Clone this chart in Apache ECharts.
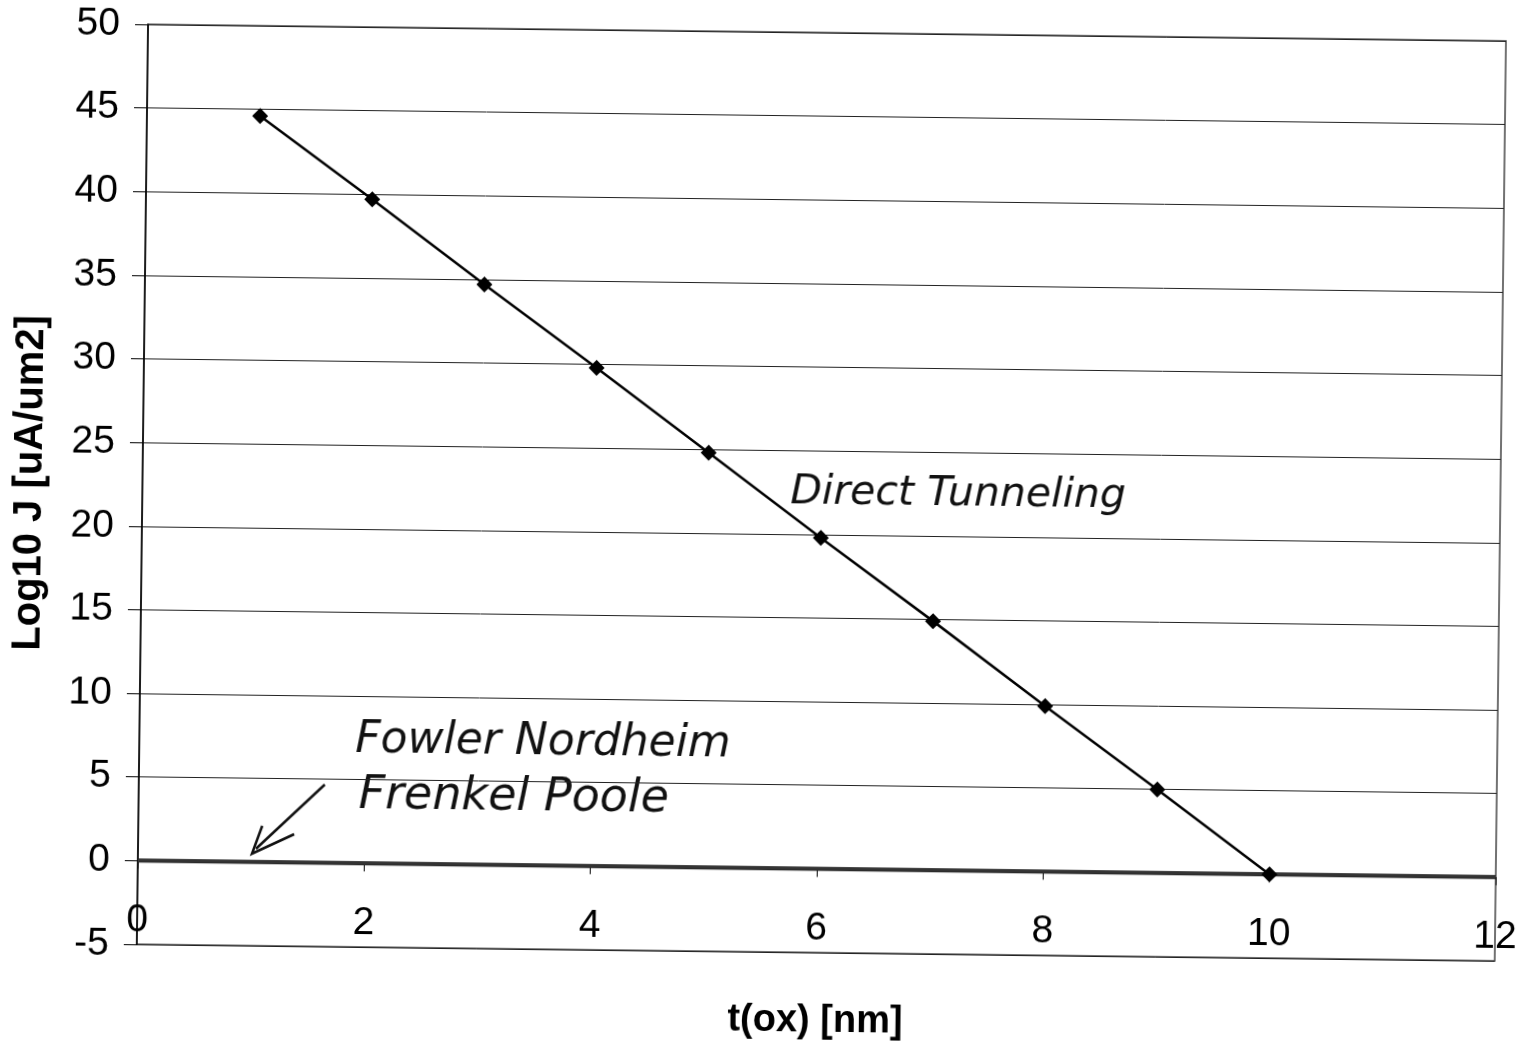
<!DOCTYPE html>
<html>
<head>
<meta charset="utf-8">
<script src="https://cdn.jsdelivr.net/npm/echarts@6/dist/echarts.min.js"></script>
<style>
html,body{margin:0;padding:0;background:#fff;overflow:hidden;}
#chart{width:1540px;height:1049px;transform:rotate(0.7deg);transform-origin:770px 524px;}
</style>
</head>
<body>
<div id="chart"></div>
<script>
// ---- data ----
const tox = [1, 2, 3, 4, 5, 6, 7, 8, 9, 10];
const directTunneling = [44.6, 39.7, 34.7, 29.8, 24.8, 19.8, 14.9, 9.9, 5.0, 0.0];
const toxWide = [0, 1, 2, 3, 4, 5, 6, 7, 8, 9, 10, 11, 12];
const fowlerNordheim = [0, 0, 0, 0, 0, 0, 0, 0, 0, 0, 0, 0, 0];
const frenkelPoole = [0, 0, 0, 0, 0, 0, 0, 0, 0, 0, 0, 0, 0];
const yTicks = { min: -5, max: 50, interval: 5 };
const xTicks = { min: 0, max: 12, interval: 2 };
const yTitle = 'Log10 J [uA/um2]';
const xTitle = 't(ox) [nm]';
const notes = ['Direct Tunneling', 'Fowler Nordheim', 'Frenkel Poole'];

const zip = (xs, ys) => xs.map((x, i) => [x, ys[i]]);
const axisFont = { fontFamily: 'Liberation Sans, Arial, sans-serif', color: '#000' };
const handFont = { fontFamily: 'DejaVu Sans, sans-serif', fontStyle: 'oblique', fontWeight: 200, fill: '#111' };

const chart = echarts.init(document.getElementById('chart'), null, { renderer: 'canvas' });
chart.setOption({
  backgroundColor: '#fff',
  animation: false,
  grid: { left: 142, top: 32, right: 40, bottom: 97, show: true, borderColor: '#444', borderWidth: 1.5, backgroundColor: 'transparent', containLabel: false, outerBoundsMode: 'none' },
  xAxis: {
    type: 'value', min: xTicks.min, max: xTicks.max, interval: xTicks.interval,
    axisLine: { onZero: true, lineStyle: { color: '#000', width: 1 } },
    axisTick: { show: true, inside: false, length: 8, lineStyle: { color: '#000' } },
    axisLabel: Object.assign({ fontSize: 39, margin: -43 }, axisFont),
    splitLine: { show: false },
    name: xTitle, nameLocation: 'middle', nameGap: 50,
    nameTextStyle: Object.assign({ fontSize: 38, fontWeight: 'bold' }, axisFont)
  },
  yAxis: {
    type: 'value', min: yTicks.min, max: yTicks.max, interval: yTicks.interval,
    axisLine: { show: true, onZero: false, lineStyle: { color: '#000', width: 1.5 } },
    axisTick: { show: true, inside: false, length: 13, lineStyle: { color: '#000' } },
    axisLabel: Object.assign({ fontSize: 39, margin: 28 }, axisFont),
    splitLine: { show: true, lineStyle: { color: '#222', width: 1 } },
    name: yTitle, nameLocation: 'middle', nameGap: 92,
    nameTextStyle: Object.assign({ fontSize: 40, fontWeight: 'bold' }, axisFont)
  },
  series: [
    {
      name: 'Fowler Nordheim', type: 'line', data: zip(toxWide, fowlerNordheim),
      symbol: 'none', lineStyle: { color: '#1a1a1a', width: 4 }, z: 3
    },
    {
      name: 'Frenkel Poole', type: 'line', data: zip(toxWide, frenkelPoole),
      symbol: 'none', lineStyle: { color: '#333', width: 3 }, z: 3
    },
    {
      name: 'Direct Tunneling', type: 'line', data: zip(tox, directTunneling),
      symbol: 'diamond', symbolSize: 16, itemStyle: { color: '#000' },
      lineStyle: { color: '#000', width: 2.5 }, z: 4
    }
  ],
  graphic: [
    { type: 'text', left: 790, top: 472, style: Object.assign({ text: notes[0], fontSize: 41 }, handFont) },
    { type: 'text', left: 358, top: 724, style: Object.assign({ text: notes[1], fontSize: 44 }, handFont) },
    { type: 'text', left: 362, top: 778, style: Object.assign({ text: notes[2], fontSize: 46 }, handFont) },
    { type: 'polyline', shape: { points: [[328, 790], [260, 855]] }, style: { stroke: '#111', lineWidth: 2.5, fill: null } },
    { type: 'polyline', shape: { points: [[266, 832], [256, 860], [298, 840]] }, style: { stroke: '#111', lineWidth: 2.5, fill: null } }
  ]
});
</script>
</body>
</html>
